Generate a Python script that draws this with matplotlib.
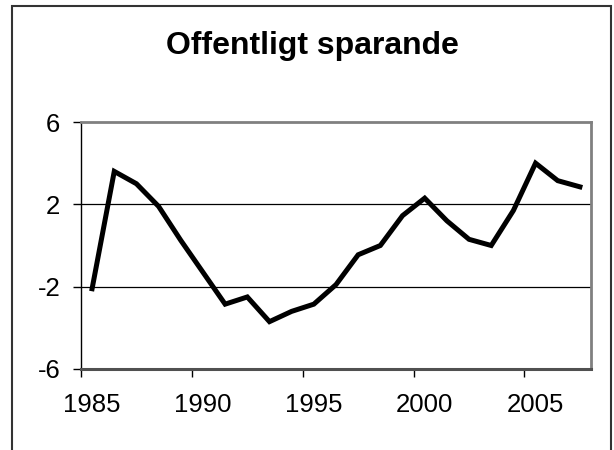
import matplotlib
matplotlib.use("Agg")
from matplotlib import pyplot as plt
from matplotlib.patches import Rectangle

plt.rcParams['font.family'] = ['Liberation Sans', 'DejaVu Sans']

# public saving, per cent of GDP
years = [1985, 1986, 1987, 1988, 1989, 1990, 1991, 1992, 1993, 1994, 1995, 1996,
         1997, 1998, 1999, 2000, 2001, 2002, 2003, 2004, 2005, 2006, 2007]
saving = [-2.1, 3.6, 3.0, 1.9, 0.25, -1.3, -2.85, -2.5, -3.7, -3.2, -2.85, -1.9,
          -0.45, 0.0, 1.45, 2.3, 1.2, 0.3, 0.0, 1.7, 4.0, 3.15, 2.85]
yticks = [-6, -2, 2, 6]
xlabels = [1985, 1990, 1995, 2000, 2005]

fig = plt.figure(figsize=(6.14, 4.5), dpi=100)
ax = fig.add_axes([81/614, 81/450, 510/614, 247/450])

ax.plot(years, saving, color='k', lw=3.6, solid_joinstyle='miter')

ax.set_xlim(1984.5, 2007.5)
ax.set_ylim(-6, 6)
ax.set_yticks(yticks)
ax.set_yticklabels([str(v) for v in yticks])
for v in [-2, 2]:
    ax.axhline(v, color='k', lw=0.9, zorder=0)

# labels at category centres, tick marks at category edges
ax.set_xticks(xlabels)
ax.set_xticklabels([str(v) for v in xlabels])
ax.set_xticks([y - 0.5 for y in xlabels], minor=True)
ax.tick_params(axis='x', which='major', length=0, pad=17, labelsize=18.5)
ax.tick_params(axis='x', which='minor', length=6, width=1, direction='out', color='k')
ax.tick_params(axis='y', length=6, width=1, direction='out', pad=9, labelsize=18.5)

for s in ['top', 'right']:
    ax.spines[s].set_color('#808080')
    ax.spines[s].set_linewidth(2)
ax.spines['bottom'].set_color('#505050')
ax.spines['bottom'].set_linewidth(2.2)
ax.spines['left'].set_color('k')
ax.spines['left'].set_linewidth(1)

fig.text(312/614, 1 - 46/450, 'Offentligt sparande', ha='center', va='center',
         fontsize=23, fontweight='bold')

fig.patches.append(Rectangle((12/614, -0.1), 599/614, 1.1 - 6/450, transform=fig.transFigure,
                             fill=False, edgecolor='#333333', lw=1.5))

fig.savefig('out.png', dpi=100)
